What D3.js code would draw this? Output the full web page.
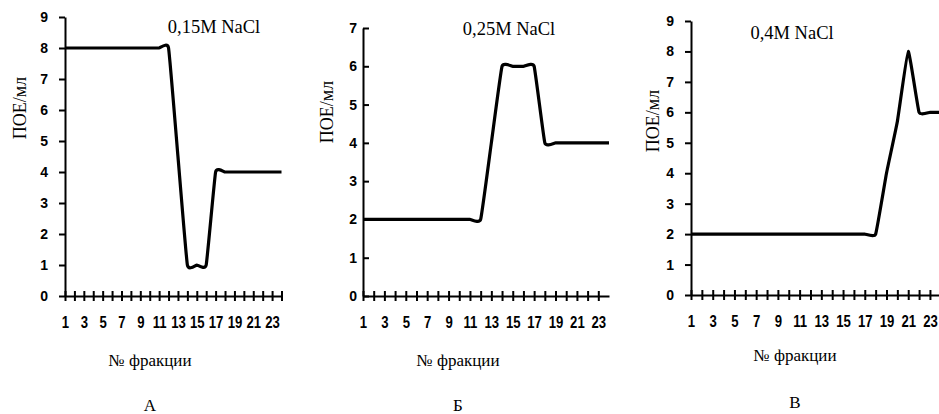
<!DOCTYPE html>
<html>
<head>
<meta charset="utf-8">
<script src="https://cdn.jsdelivr.net/npm/d3@7"></script>
<style>
  body { margin: 0; background: #fff; }
  svg { display: block; }
</style>
</head>
<body>
<svg id="chart" width="939" height="414"></svg>
<script>
// fraction numbers along the x axis
const fractions = [1, 2, 3, 4, 5, 6, 7, 8, 9, 10, 11, 12, 13, 14, 15, 16, 17, 18, 19, 20, 21, 22, 23, 24];
const labelledFractions = [1, 3, 5, 7, 9, 11, 13, 15, 17, 19, 21, 23];

// ПОЕ/мл per fraction
const valuesA = [8, 8, 8, 8, 8, 8, 8, 8, 8, 8, 8, 8, 4.5, 1, 1, 1, 4, 4, 4, 4, 4, 4, 4, 4];
const valuesB = [2, 2, 2, 2, 2, 2, 2, 2, 2, 2, 2, 2, 4, 6, 6, 6, 6, 4, 4, 4, 4, 4, 4, 4];
const valuesC = [2, 2, 2, 2, 2, 2, 2, 2, 2, 2, 2, 2, 2, 2, 2, 2, 2, 2, 4, 5.7, 8, 6, 6, 6];

const yTicksA = [0, 1, 2, 3, 4, 5, 6, 7, 8, 9];
const yTicksB = [0, 1, 2, 3, 4, 5, 6, 7];
const yTicksC = [0, 1, 2, 3, 4, 5, 6, 7, 8, 9];

const titles = ["0,15M NaCl", "0,25M NaCl", "0,4M NaCl"];
const letters = ["А", "Б", "В"];
const yTitle = "ПОЕ/мл";
const xTitle = "№ фракции";

const serif = "'Liberation Serif', 'Times New Roman', serif";
const sans = "'Liberation Sans', Arial, sans-serif";

const panels = [
    {values: valuesA, yTicks: yTicksA, xTicks: fractions, left: 65, right: 281.5, top: 17, bottom: 296,
     tickIn: false, titleX: 214, titleY: 33, yLabX: 20, yLabY: 108, fracX: 150, fracY: 366, letY: 411},
    {values: valuesB, yTicks: yTicksB, xTicks: fractions.slice(0, 23), left: 363, right: 609, top: 28, bottom: 296,
     tickIn: true, titleX: 509, titleY: 35, yLabX: 327, yLabY: 112, fracX: 458, fracY: 366, letY: 411},
    {values: valuesC, yTicks: yTicksC, xTicks: fractions, left: 691, right: 940.8, top: 21, bottom: 295,
     tickIn: false, titleX: 792, titleY: 39, yLabX: 653, yLabY: 121, fracX: 795, fracY: 361, letY: 408}
];

const svg = d3.select("#chart");
svg.append("rect").attr("width", 939).attr("height", 414).attr("fill", "#fff");

panels.forEach(function(p, i){
    const x = d3.scaleLinear().domain([1, 24]).range([p.left, p.right]);
    const y = d3.scaleLinear().domain([0, d3.max(p.yTicks)]).range([p.bottom, p.top]);

    const g = svg.append("g");

    // y axis
    const yAxis = d3.axisLeft(y)
        .tickValues(p.yTicks)
        .tickFormat(d3.format("d"))
        .tickSizeOuter(0)
        .tickSizeInner(p.tickIn ? -6 : 6)
        .tickPadding(p.tickIn ? 6 : 11);
    const gy = g.append("g")
        .attr("transform", `translate(${p.left},0)`)
        .call(yAxis)
        .attr("font-family", sans)
        .attr("font-weight", "bold")
        .attr("font-size", 14);
    gy.select(".domain").attr("stroke", "#000").attr("stroke-width", 2);
    gy.selectAll(".tick line").attr("stroke", "#000").attr("stroke-width", 2);
    gy.selectAll(".tick text").attr("fill", "#000");

    // x axis, ticks crossing the line
    const xAxis = d3.axisBottom(x)
        .tickValues(p.xTicks)
        .tickSizeOuter(0)
        .tickFormat(d => labelledFractions.includes(d) ? d : "");
    const gx = g.append("g")
        .attr("transform", `translate(0,${p.bottom})`)
        .call(xAxis)
        .attr("font-family", sans)
        .attr("font-weight", "bold")
        .attr("font-size", 16);
    gx.select(".domain").attr("stroke", "#000").attr("stroke-width", 2);
    gx.selectAll(".tick line").attr("stroke", "#000").attr("stroke-width", 2)
        .attr("y1", -5).attr("y2", 5);
    gx.selectAll(".tick text").attr("fill", "#000")
        .attr("y", 32).attr("dy", 0)
        .attr("transform", "scale(0.82,1)");

    // data line
    const line = d3.line()
        .x((d, j) => x(fractions[j]))
        .y(d => y(d))
        .curve(d3.curveCardinal.tension(0.65));
    g.append("path")
        .datum(p.values)
        .attr("fill", "none")
        .attr("stroke", "#000")
        .attr("stroke-width", 3.2)
        .attr("stroke-linejoin", "round")
        .attr("d", line);

    // texts
    g.append("text")
        .attr("x", p.titleX).attr("y", p.titleY)
        .attr("text-anchor", "middle")
        .attr("font-family", serif)
        .attr("font-size", 18.5)
        .text(titles[i]);

    g.append("text")
        .attr("transform", `translate(${p.yLabX},${p.yLabY}) rotate(-90)`)
        .attr("text-anchor", "middle")
        .attr("dominant-baseline", "central")
        .attr("font-family", serif)
        .attr("font-size", 18)
        .text(yTitle);

    g.append("text")
        .attr("x", p.fracX).attr("y", p.fracY)
        .attr("text-anchor", "middle")
        .attr("font-family", serif)
        .attr("font-size", 17)
        .text(xTitle);

    g.append("text")
        .attr("x", p.fracX).attr("y", p.letY)
        .attr("text-anchor", "middle")
        .attr("font-family", serif)
        .attr("font-size", 17)
        .text(letters[i]);
});
</script>
</body>
</html>
